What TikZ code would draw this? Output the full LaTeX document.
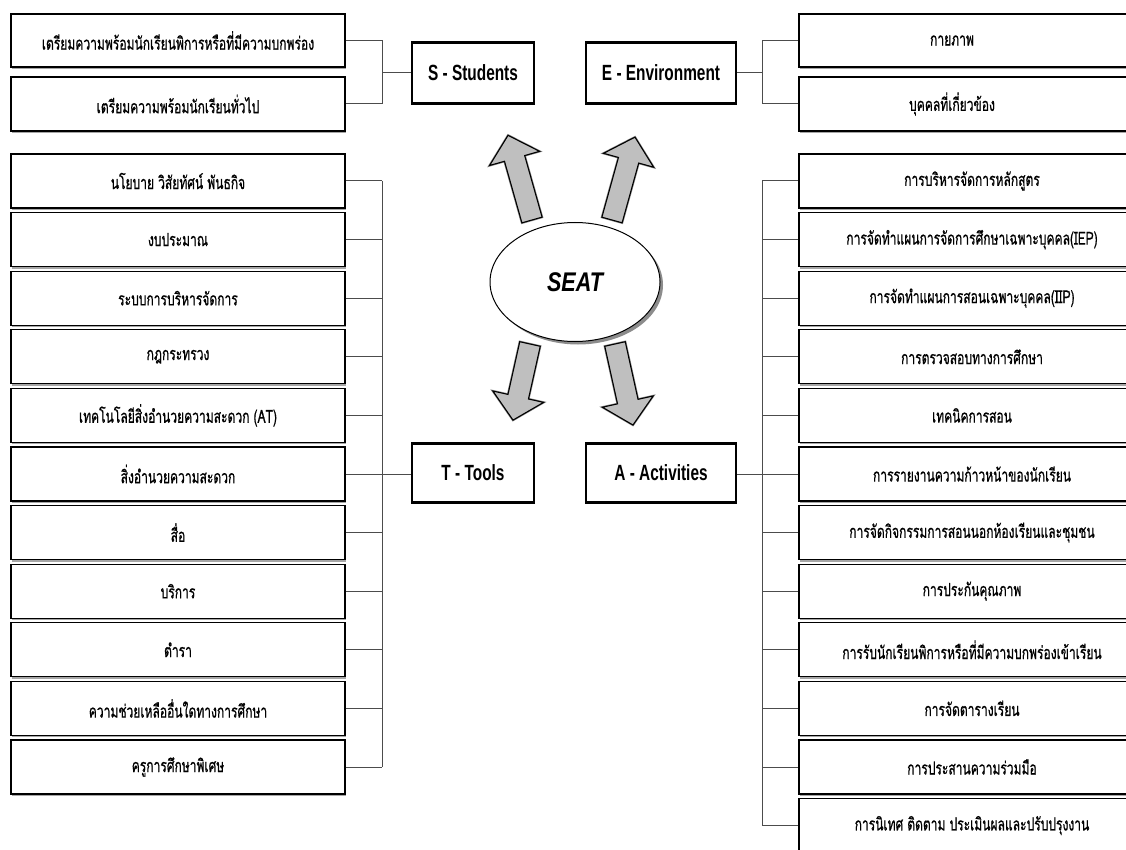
\documentclass[tikz,border=0pt]{standalone}
\usepackage{fontspec}
\setmainfont{Liberation Sans}
\newfontfamily\thai[Script=Thai,FakeStretch=0.67,FakeBold=0.7]{Loma}
\newfontfamily\labfont[FakeStretch=0.7]{Liberation Sans}
\newfontfamily\seatfont[FakeStretch=0.8]{Liberation Sans}
\usetikzlibrary{shapes.geometric,shadows}
\tikzset{
  item/.style={draw, line width=1.2pt, fill=white, minimum height=54pt, inner sep=0pt,
    font=\thai\fontsize{18}{20}\selectfont,
    drop shadow={shadow xshift=1pt, shadow yshift=-2pt, fill=black!35, opacity=1}},
  keybox/.style={draw, line width=2.6pt, fill=white, inner sep=0pt,
    font=\labfont\bfseries\fontsize{22}{24}\selectfont},
  conn/.style={draw=black!70, line width=1pt},
  pics/barrow/.style={code={
    \draw[line width=2.2pt, draw=black!45] (0,-10.5) -- ({#1-24},-10.5) -- ({#1-24},-26) -- (#1,0) -- ({#1-24},26) -- ({#1-24},10.5) -- (0,10.5) -- cycle;
    \draw[line width=1.1pt, fill=black!25, line join=miter] (0,-10.5) -- ({#1-24},-10.5) -- ({#1-24},-26) -- (#1,0) -- ({#1-24},26) -- ({#1-24},10.5) -- (0,10.5) -- cycle;
  }}
}
\begin{document}
\begin{tikzpicture}[x=1pt,y=-1pt]
\useasboundingbox (0,0) rectangle (1126,850);
\fill[white] (0,0) rectangle (1126,850);
\clip (0,0) rectangle (1126,850);

% top left items
\node[item, minimum width=334pt, minimum height=53pt] (tl1) at (178,40.5) {เตรียมความพร้อมนักเรียนพิการหรือที่มีความบกพร่อง};
\node[item, minimum width=334pt] (tl2) at (178,104) {เตรียมความพร้อมนักเรียนทั่วไป};
% top right items
\node[item, minimum width=360pt, minimum height=53pt] (tr1) at (979,40.5) {\hspace*{-54pt}กายภาพ};
\node[item, minimum width=360pt] (tr2) at (979,104) {\hspace*{-54pt}บุคคลที่เกี่ยวข้อง};

% key boxes
\node[keybox, minimum width=122pt, minimum height=61pt] (S) at (473,73) {S - Students};
\node[keybox, minimum width=150pt, minimum height=61pt] (E) at (661,73) {E - Environment};
\node[keybox, minimum width=122pt, minimum height=59pt] (T) at (473,473) {T - Tools};
\node[keybox, minimum width=150pt, minimum height=59pt] (A) at (661,473) {A - Activities};

% left list
\foreach \t [count=\i] in {นโยบาย วิสัยทัศน์ พันธกิจ, งบประมาณ, ระบบการบริหารจัดการ, กฎกระทรวง, เทคโนโลยีสิ่งอำนวยความสะดวก (AT), สิ่งอำนวยความสะดวก, สื่อ, บริการ, ตำรา, ความช่วยเหลืออื่นใดทางการศึกษา, ครูการศึกษาพิเศษ}
  \node[item, minimum width=334pt] (l\i) at (178,{181+58.6*(\i-1)}) {\t};

% right list
\foreach \t [count=\i] in {การบริหารจัดการหลักสูตร, การจัดทำแผนการจัดการศึกษาเฉพาะบุคคล(IEP), การจัดทำแผนการสอนเฉพาะบุคคล(IIP), การตรวจสอบทางการศึกษา, เทคนิคการสอน, การรายงานความก้าวหน้าของนักเรียน, การจัดกิจกรรมการสอนนอกห้องเรียนและชุมชน, การประกันคุณภาพ, การรับนักเรียนพิการหรือที่มีความบกพร่องเข้าเรียน, การจัดตารางเรียน, การประสานความร่วมมือ, การนิเทศ ติดตาม ประเมินผลและปรับปรุงงาน}
  \node[item, minimum width=360pt] (r\i) at (979,{181+58.6*(\i-1)}) {\hspace*{-14pt}\t};

% bracket coordinates
\coordinate (lb) at (382,0);
\coordinate (rb) at (762,0);

% S bracket
\draw[conn] (tl1.east) -- (tl1.east -| lb) -- (tl2.east -| lb) -- (tl2.east);
\draw[conn] (S.west) -- (S.west -| lb);
% E bracket
\draw[conn] (tr1.west) -- (tr1.west -| rb) -- (tr2.west -| rb) -- (tr2.west);
\draw[conn] (E.east) -- (E.east -| rb);
% left bracket
\draw[conn] (l1.east -| lb) -- (l11.east -| lb);
\foreach \i in {1,...,11} \draw[conn] (l\i.east) -- (l\i.east -| lb);
\draw[conn] (l6.east -| lb) -- (l6.east -| T.west);
% right bracket
\draw[conn] (r1.west -| rb) -- (r12.west -| rb);
\foreach \i in {1,...,12} \draw[conn] (r\i.west -| rb) -- (r\i.west);
\draw[conn] (r6.west -| A.east) -- (r6.west -| rb);

% centre
\node[ellipse, draw, line width=1pt, fill=white, minimum width=170pt, minimum height=119pt,
  drop shadow={shadow xshift=3pt, shadow yshift=-3pt, fill=black!45, opacity=1},
  font=\seatfont\bfseries\itshape\fontsize{27}{29}\selectfont] (seat) at (575,282) {SEAT};

\pic[rotate=105.8] at (532,220) {barrow=88};
\pic[rotate=74.5] at (612,220) {barrow=86};
\pic[rotate=-102.6] at (530,344) {barrow=78};
\pic[rotate=-77.5] at (615,344) {barrow=83};
\end{tikzpicture}
\end{document}
